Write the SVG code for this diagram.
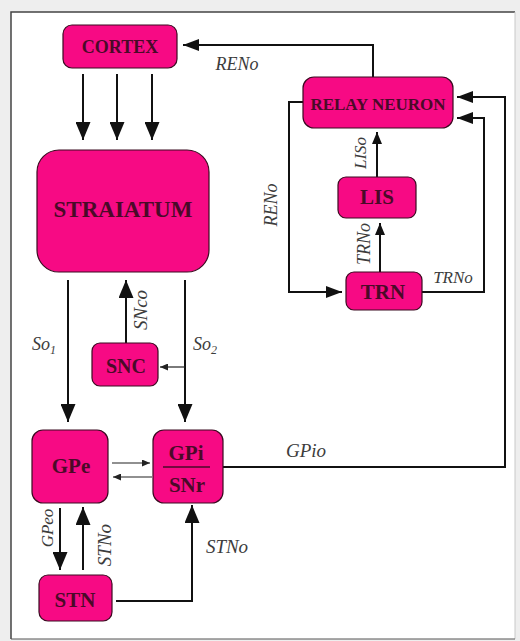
<svg xmlns="http://www.w3.org/2000/svg" width="520" height="641" viewBox="0 0 520 641">
<style>
.node rect{fill:#f70a84;stroke:#3a0a20;stroke-width:1.2}
.node text{font-family:"Liberation Serif","Times New Roman",serif;font-weight:bold;fill:#4a0a28;text-anchor:middle}
.lbl{font-family:"Liberation Serif","Times New Roman",serif;font-style:italic;fill:#3c3c3c;text-anchor:middle}
.c{fill:none;stroke:#111;stroke-width:2}
.t{fill:none;stroke:#222;stroke-width:1.2}
</style>
<defs>
<marker id="big" markerUnits="userSpaceOnUse" markerWidth="18" markerHeight="15" refX="18" refY="7.5" orient="auto"><path d="M0,0 L18,7.5 L0,15 z" fill="#111"/></marker>
<marker id="mid" markerUnits="userSpaceOnUse" markerWidth="16" markerHeight="12" refX="16" refY="6" orient="auto"><path d="M0,0 L16,6 L0,12 z" fill="#111"/></marker>
<marker id="sm" markerUnits="userSpaceOnUse" markerWidth="12" markerHeight="10" refX="12" refY="5" orient="auto"><path d="M0,0 L12,5 L0,10 z" fill="#111"/></marker>
<marker id="tiny" markerUnits="userSpaceOnUse" markerWidth="8" markerHeight="7" refX="8" refY="3.5" orient="auto"><path d="M0,0 L8,3.5 L0,7 z" fill="#222"/></marker>
</defs>
<rect x="0" y="0" width="520" height="641" fill="#eeeeee"/>
<rect x="11" y="12" width="504" height="627" fill="#ffffff"/>
<path d="M11,639 V12 H515" fill="none" stroke="#444" stroke-width="1.5"/>
<path d="M515,12 V639" fill="none" stroke="#c8c8c8" stroke-width="1"/>
<path d="M11,639 H515" fill="none" stroke="#555" stroke-width="1.2"/>

<g id="connectors">
<path class="c" d="M83,74 V140" marker-end="url(#big)"/>
<path class="c" d="M117,74 V140" marker-end="url(#big)"/>
<path class="c" d="M152,74 V140" marker-end="url(#big)"/>
<path class="c" d="M373,77 V45 H183" marker-end="url(#mid)"/>
<path class="c" d="M303,102 H289 V292 H342" marker-end="url(#mid)"/>
<path class="c" d="M377,177 V132" marker-end="url(#sm)"/>
<path class="c" d="M380,272 V223" marker-end="url(#sm)"/>
<path class="c" d="M422,292 H484 V118 H457" marker-end="url(#mid)"/>
<path class="c" d="M223,467 H505 V97 H457" marker-end="url(#mid)"/>
<path class="c" d="M68,280 V422" marker-end="url(#big)"/>
<path class="c" d="M185,280 V422" marker-end="url(#big)"/>
<path class="t" d="M185,367 H160" marker-end="url(#tiny)"/>
<path class="c" d="M126,343 V280" marker-end="url(#big)"/>
<path class="t" d="M112,463 H150" marker-end="url(#tiny)"/>
<path class="t" d="M152,477 H113" marker-end="url(#tiny)"/>
<path class="c" d="M60,508 V570" marker-end="url(#big)"/>
<path class="c" d="M83,570 V507" marker-end="url(#big)"/>
<path class="c" d="M116,601 H192 V505" marker-end="url(#big)"/>
</g>

<g id="labels">
<text class="lbl" x="237" y="70" font-size="18">RENo</text>
<text class="lbl" x="306" y="457" font-size="19">GPio</text>
<text class="lbl" x="453" y="283" font-size="17">TRNo</text>
<text class="lbl" x="227" y="553" font-size="19">STNo</text>
<text class="lbl" x="44" y="350" font-size="18">So<tspan font-size="12" dy="4">1</tspan></text>
<text class="lbl" x="205" y="350" font-size="18">So<tspan font-size="12" dy="4">2</tspan></text>
<text class="lbl" font-size="18" transform="translate(277,205) rotate(-90)">RENo</text>
<text class="lbl" font-size="17" transform="translate(366,153) rotate(-90)">LISo</text>
<text class="lbl" font-size="18" transform="translate(370,244) rotate(-90)">TRNo</text>
<text class="lbl" font-size="19" transform="translate(147,310) rotate(-90)">SNco</text>
<text class="lbl" font-size="17" transform="translate(53,528) rotate(-90)">GPeo</text>
<text class="lbl" font-size="19" transform="translate(111,545) rotate(-90)">STNo</text>
</g>

<g id="cortex" class="node"><rect x="63" y="25" width="114" height="43" rx="9"/><text x="120" y="53" font-size="18">CORTEX</text></g>
<g id="relay-neuron" class="node"><rect x="303" y="77" width="150" height="51" rx="11"/><text x="378" y="110" font-size="17">RELAY NEURON</text></g>
<g id="straiatum" class="node"><rect x="37" y="150" width="172" height="122" rx="22"/><text x="123" y="217" font-size="23">STRAIATUM</text></g>
<g id="lis" class="node"><rect x="338" y="177" width="78" height="41" rx="8"/><text x="377" y="204" font-size="21">LIS</text></g>
<g id="trn" class="node"><rect x="346" y="272" width="76" height="38" rx="8"/><text x="383" y="299" font-size="21">TRN</text></g>
<g id="snc" class="node"><rect x="92" y="343" width="66" height="43" rx="8"/><text x="126" y="373" font-size="20">SNC</text></g>
<g id="gpe" class="node"><rect x="32" y="430" width="76" height="73" rx="11"/><text x="71" y="473" font-size="21">GPe</text></g>
<g id="gpi-snr" class="node"><rect x="153" y="430" width="70" height="73" rx="11"/><text x="186" y="460" font-size="21">GPi</text><line x1="163" y1="467" x2="210" y2="467" stroke="#4a0a28" stroke-width="1.5"/><text x="187" y="492" font-size="21">SNr</text></g>
<g id="stn" class="node"><rect x="39" y="575" width="73" height="46" rx="9"/><text x="75" y="607" font-size="21">STN</text></g>
</svg>
